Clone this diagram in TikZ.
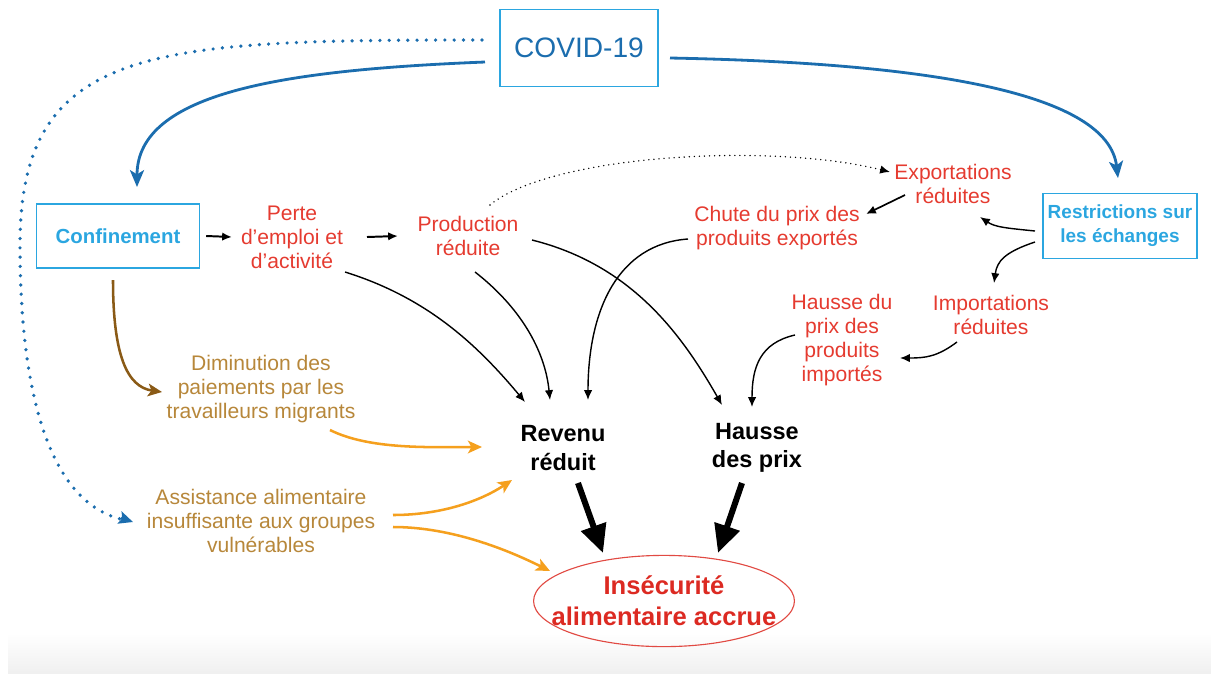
\documentclass[tikz,border=0pt]{standalone}
\usepackage{fontspec}
\setmainfont{Liberation Sans}
\usetikzlibrary{positioning, arrows.meta, shapes.geometric, calc}

\definecolor{covidblue}{HTML}{1B6DAE}
\definecolor{lightblue}{HTML}{2BA6E0}
\definecolor{effred}{HTML}{E53B30}
\definecolor{insecred}{HTML}{DC2A22}
\definecolor{ochre}{HTML}{B7873A}
\definecolor{arrbrown}{HTML}{8A5A16}
\definecolor{arrorange}{HTML}{F5A01E}

\begin{document}
\begin{tikzpicture}[x=0.025cm,y=-0.025cm,
  every node/.style={align=center,inner sep=1pt},
  bluebox/.style={rectangle,draw=lightblue,line width=1pt},
  redtext/.style={text=effred,font=\fontsize{15}{17}\selectfont},
  ochretext/.style={text=ochre,font=\fontsize{15}{17}\selectfont},
  blacktext/.style={font=\bfseries\fontsize{16.7}{20}\selectfont},
  smallarr/.style={-{Latex[length=7pt,width=6pt]},line width=1pt},
  bigarr/.style={-{Triangle[length=20pt,width=18pt]},line width=4.3pt},
  bluearr/.style={-{Stealth[length=12pt,width=10pt,inset=3pt]},covidblue,line width=2pt},
  orangearr/.style={-{Stealth[length=10pt,width=9pt,inset=2.5pt]},arrorange,line width=1.8pt},
  bluedots/.style={covidblue,line width=2.6pt,line cap=round,dash pattern=on 0pt off 6.6pt},
  blackdots/.style={line width=1.1pt,line cap=round,dash pattern=on 0pt off 3.6pt}]
  \useasboundingbox (0,0) rectangle (1211,673);
  \shade[top color=white,bottom color=black!6] (8,633) rectangle (1211,673);
%
  \node(covid)[bluebox,minimum width=3.95cm,minimum height=1.925cm,text=covidblue,font=\fontsize{20}{24}\selectfont] at (579,48) {COVID-19};
  \node(conf)[bluebox,minimum width=4.075cm,minimum height=1.6cm,text=lightblue,font=\bfseries\fontsize{14.5}{17}\selectfont] at (118,236) {Confinement};
  \node(restr)[bluebox,minimum width=3.85cm,minimum height=1.625cm,text=lightblue,font=\bfseries\fontsize{13.5}{17}\selectfont] at (1120,226) {Restrictions sur\\les échanges};
%
  \node(perte)[redtext] at (292,237) {Perte\\d’emploi et\\d’activité};
  \node(prod)[redtext] at (468,236) {Production\\réduite};
  \node(export)[redtext] at (953,184) {Exportations\\réduites};
  \node(chute)[redtext] at (777,228) {Chute du prix des\\produits exportés};
  \node(hprix)[redtext] at (842,340) {Hausse du\\prix des\\produits\\importés};
  \node(import)[redtext] at (991,315) {Importations\\réduites};
%
  \node(dimin)[ochretext] at (261,389) {Diminution des\\paiements par les\\travailleurs migrants};
  \node(assist)[ochretext] at (261,521) {Assistance alimentaire\\insuffisante aux groupes\\vulnérables};
%
  \node(revenu)[blacktext] at (563,448) {Revenu\\réduit};
  \node(hausse)[blacktext] at (757,448) {Hausse\\des prix};
  \node(insec)[text=insecred,font=\bfseries\fontsize{18.2}{22}\selectfont] at (664,601) {Insécurité\\alimentaire accrue};
  \draw[insecred!85,line width=0.8pt](insec) ellipse [x radius=3.26cm,y radius=1.14cm];
  \coordinate(bend) at (20,245);
%
\draw[bluearr]($(covid)+(-94,14)$) .. controls +(-200,8) and +(0,-95) .. ($(conf)+(19,-49)$);
\draw[bluearr]($(covid)+(91,10)$) .. controls +(260,5) and +(-10,-85) .. ($(restr)+(-2,-48)$);
\draw[bluedots]($(covid)+(-97,-8)$) .. controls +(-330,0) and +(0,-200) .. (bend)
               .. controls +(0,150) and +(-75,-15) .. ($(assist)+(-136,-1)$);
\draw[-{Stealth[length=10pt,width=9pt,inset=2pt]},covidblue,line width=2pt]($(assist)+(-140,-3)$)--($(assist)+(-128,1)$);
%
\draw[smallarr,line width=1.4pt](conf.east)++(6,0)--($(perte)+(-60,0)$);
\draw[smallarr,line width=1.4pt]($(perte)+(75,0)$)--($(prod)+(-70,0)$);
\draw[blackdots,-{Latex[length=7pt,width=6pt]}]($(prod)+(22,-31)$) .. controls +(60,-50) and +(-120,-30) .. ($(export)+(-63,-12)$);
\draw[smallarr,line width=1.2pt]($(export)+(-48,11)$)--($(chute)+(89,-14)$);
\draw[smallarr]($(restr)+(-85,5)$) .. controls +(-30,-3) and +(15,10) .. ($(export)+(27,33)$);
\draw[smallarr]($(restr)+(-85,16)$) .. controls +(-30,10) and +(3,-22) .. ($(import)+(3,-32)$);
\draw[smallarr]($(import)+(-34,27)$) .. controls +(-20,15) and +(25,0) .. ($(hprix)+(58,18)$);
%
\draw[smallarr]($(chute)+(-89,11)$) .. controls +(-70,5) and +(0,-90) .. ($(revenu)+(25,-48)$);
\draw[smallarr]($(hprix)+(-47,-5)$) .. controls +(-35,8) and +(0,-40) .. ($(hausse)+(-5,-41)$);
\draw[smallarr]($(perte)+(53,35)$) .. controls +(80,25) and +(-50,-60) .. ($(revenu)+(-38,-46)$);
\draw[smallarr]($(prod)+(7,36)$) .. controls +(45,35) and +(-5,-50) .. ($(revenu)+(-13,-48)$);
\draw[smallarr]($(prod)+(64,4)$) .. controls +(100,25) and +(-40,-70) .. ($(hausse)+(-35,-43)$);
%
\draw[bigarr]($(revenu)+(15,35)$)--($(insec)+(-61,-48)$);
\draw[bigarr]($(hausse)+(-15,35)$)--($(insec)+(54,-48)$);
%
\draw[-{Stealth[length=10pt,width=9pt,inset=2.5pt]},arrbrown,line width=1.8pt]($(conf)+(-5,44)$) .. controls +(0,75) and +(-35,-5) .. ($(dimin)+(-99,3)$);
\draw[orangearr]($(dimin)+(69,41)$) .. controls +(40,20) and +(-50,0) .. ($(revenu)+(-81,-1)$);
\draw[orangearr]($(assist)+(132,-6)$) .. controls +(50,0) and +(-30,20) .. ($(revenu)+(-51,32)$);
\draw[orangearr]($(assist)+(132,6)$) .. controls +(60,0) and +(-40,-20) .. ($(insec)+(-114,-30)$);
\end{tikzpicture}
\end{document}
